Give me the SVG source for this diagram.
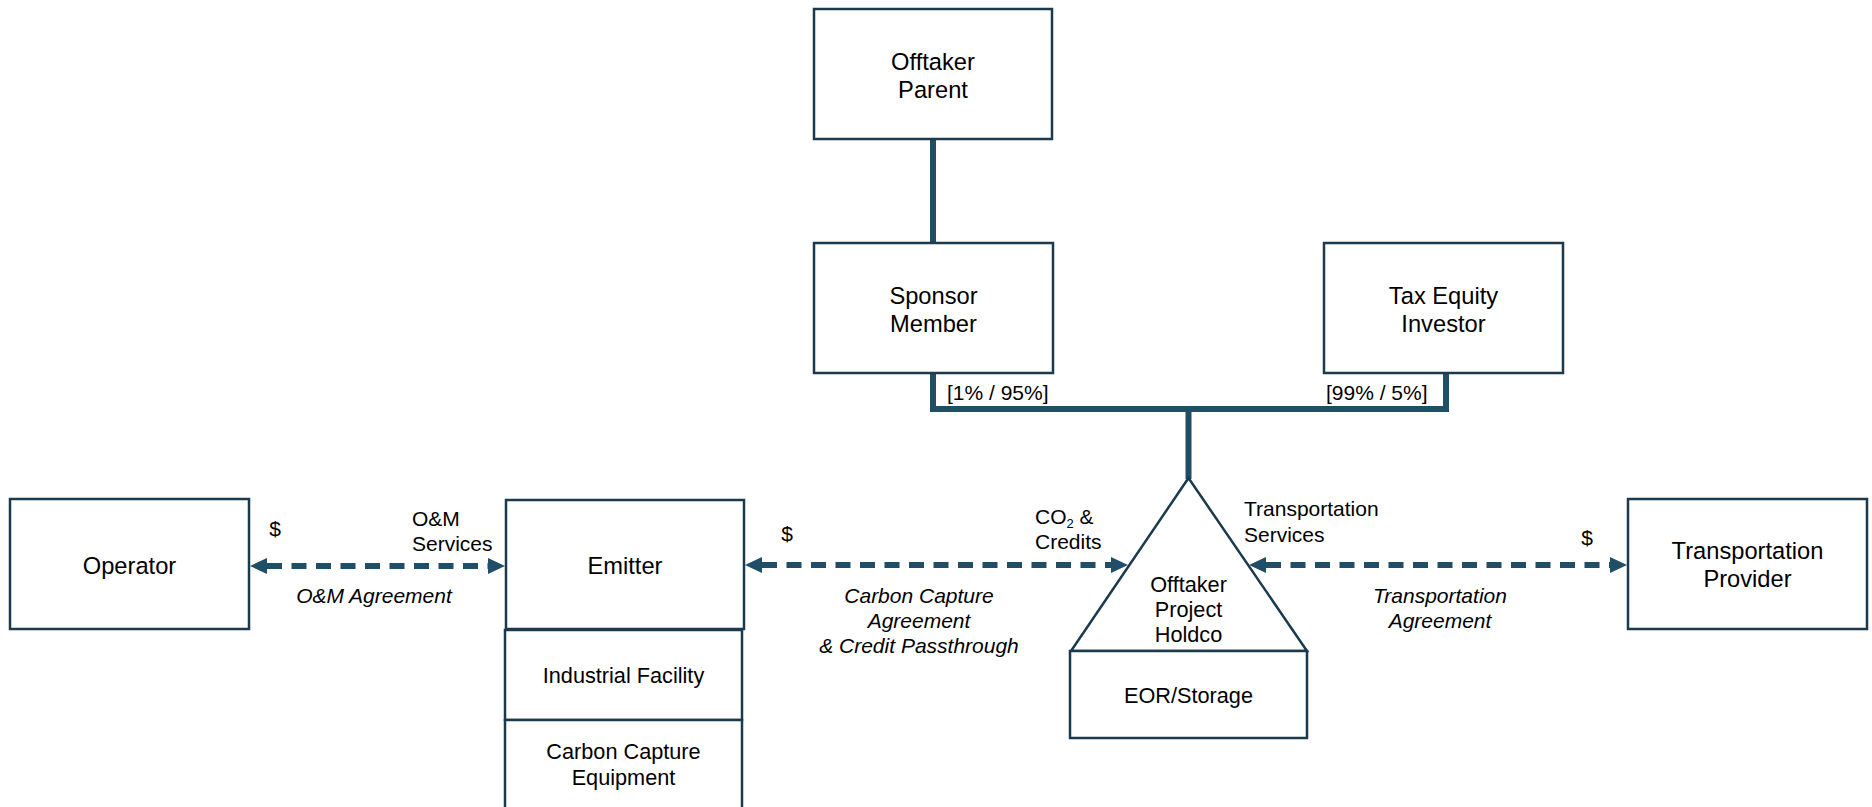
<svg xmlns="http://www.w3.org/2000/svg" width="1872" height="807" viewBox="0 0 1872 807">
<defs>
<style>
.box{fill:#ffffff;stroke:#1b3a4e;stroke-width:2.5}
.t{font-family:"Liberation Sans",Arial,sans-serif;fill:#000;text-anchor:middle}
.main{font-size:23.7px}
.sub{font-size:21.7px}
.lbl{font-size:21px}
.it{font-style:italic}
.l{text-anchor:start}
.own{fill:none;stroke:#1f4e66;stroke-width:6}
.arr{fill:none;stroke:#1f4e66;stroke-width:6;stroke-dasharray:15 9.5}
</style>
<marker id="ah" viewBox="0 0 17 16" refX="0" refY="8" markerWidth="17" markerHeight="16" markerUnits="userSpaceOnUse" orient="auto-start-reverse">
<path d="M0,0 L17,8 L0,16 z" fill="#1f4e66"/>
</marker>
</defs>
<rect width="1872" height="807" fill="#ffffff"/>

<g id="connectors">
<line class="own" x1="933" y1="139" x2="933" y2="243"/>
<polyline class="own" points="933,373 933,409 1446,409 1446,373"/>
<line class="own" x1="1188.5" y1="409" x2="1188.5" y2="479"/>
<line class="arr" x1="267" y1="566" x2="488" y2="566" marker-start="url(#ah)" marker-end="url(#ah)"/>
<line class="arr" x1="762" y1="565" x2="1111" y2="565" marker-start="url(#ah)" marker-end="url(#ah)"/>
<line class="arr" x1="1266" y1="565" x2="1610" y2="565" marker-start="url(#ah)" marker-end="url(#ah)"/>
</g>

<g id="offtaker-parent">
<rect class="box" x="814" y="9" width="238" height="130"/>
<text class="t main" x="933" y="70">Offtaker</text>
<text class="t main" x="933" y="98">Parent</text>
</g>

<g id="sponsor-member">
<rect class="box" x="814" y="243" width="239" height="130"/>
<text class="t main" x="933.5" y="304">Sponsor</text>
<text class="t main" x="933.5" y="332">Member</text>
</g>

<g id="tax-equity-investor">
<rect class="box" x="1324" y="243" width="239" height="130"/>
<text class="t main" x="1443.5" y="304">Tax Equity</text>
<text class="t main" x="1443.5" y="332">Investor</text>
</g>

<g id="ownership-labels">
<text class="t lbl l" x="947" y="400">[1% / 95%]</text>
<text class="t lbl l" x="1326" y="400">[99% / 5%]</text>
</g>

<g id="operator">
<rect class="box" x="10" y="499" width="239" height="130"/>
<text class="t main" x="129.5" y="574">Operator</text>
</g>

<g id="emitter">
<rect class="box" x="506" y="500" width="238" height="129"/>
<text class="t main" x="625" y="574">Emitter</text>
</g>

<g id="industrial-facility">
<rect class="box" x="505" y="630" width="237" height="90"/>
<text class="t sub" x="623.5" y="683">Industrial Facility</text>
</g>

<g id="carbon-capture-equipment">
<rect class="box" x="505" y="720" width="237" height="110"/>
<text class="t sub" x="623.5" y="759">Carbon Capture</text>
<text class="t sub" x="623.5" y="785">Equipment</text>
</g>

<g id="offtaker-project-holdco">
<polygon class="box" points="1188.5,478 1071,651 1307,651"/>
<text class="t sub" x="1188.5" y="591.5">Offtaker</text>
<text class="t sub" x="1188.5" y="616.5">Project</text>
<text class="t sub" x="1188.5" y="641.5">Holdco</text>
</g>

<g id="eor-storage">
<rect class="box" x="1070" y="651" width="237" height="87"/>
<text class="t sub" x="1188.5" y="703">EOR/Storage</text>
</g>

<g id="transportation-provider">
<rect class="box" x="1628" y="499" width="239" height="130"/>
<text class="t main" x="1747.5" y="559">Transportation</text>
<text class="t main" x="1747.5" y="587">Provider</text>
</g>

<g id="edge-labels">
<text class="t lbl" x="275" y="536">$</text>
<text class="t lbl l" x="412" y="526">O&amp;M</text>
<text class="t lbl l" x="412" y="551">Services</text>
<text class="t lbl it" x="374" y="603">O&amp;M Agreement</text>

<text class="t lbl" x="787" y="541">$</text>
<text class="t lbl l" x="1035" y="524">CO<tspan font-size="13" dy="3.5">2</tspan><tspan dy="-3.5"> &amp;</tspan></text>
<text class="t lbl l" x="1035" y="549">Credits</text>
<text class="t lbl it" x="919" y="603">Carbon Capture</text>
<text class="t lbl it" x="919" y="628">Agreement</text>
<text class="t lbl it" x="919" y="653">&amp; Credit Passthrough</text>

<text class="t lbl l" x="1244" y="516">Transportation</text>
<text class="t lbl l" x="1244" y="542">Services</text>
<text class="t lbl" x="1587" y="545">$</text>
<text class="t lbl it" x="1440" y="603">Transportation</text>
<text class="t lbl it" x="1440" y="628">Agreement</text>
</g>
</svg>
